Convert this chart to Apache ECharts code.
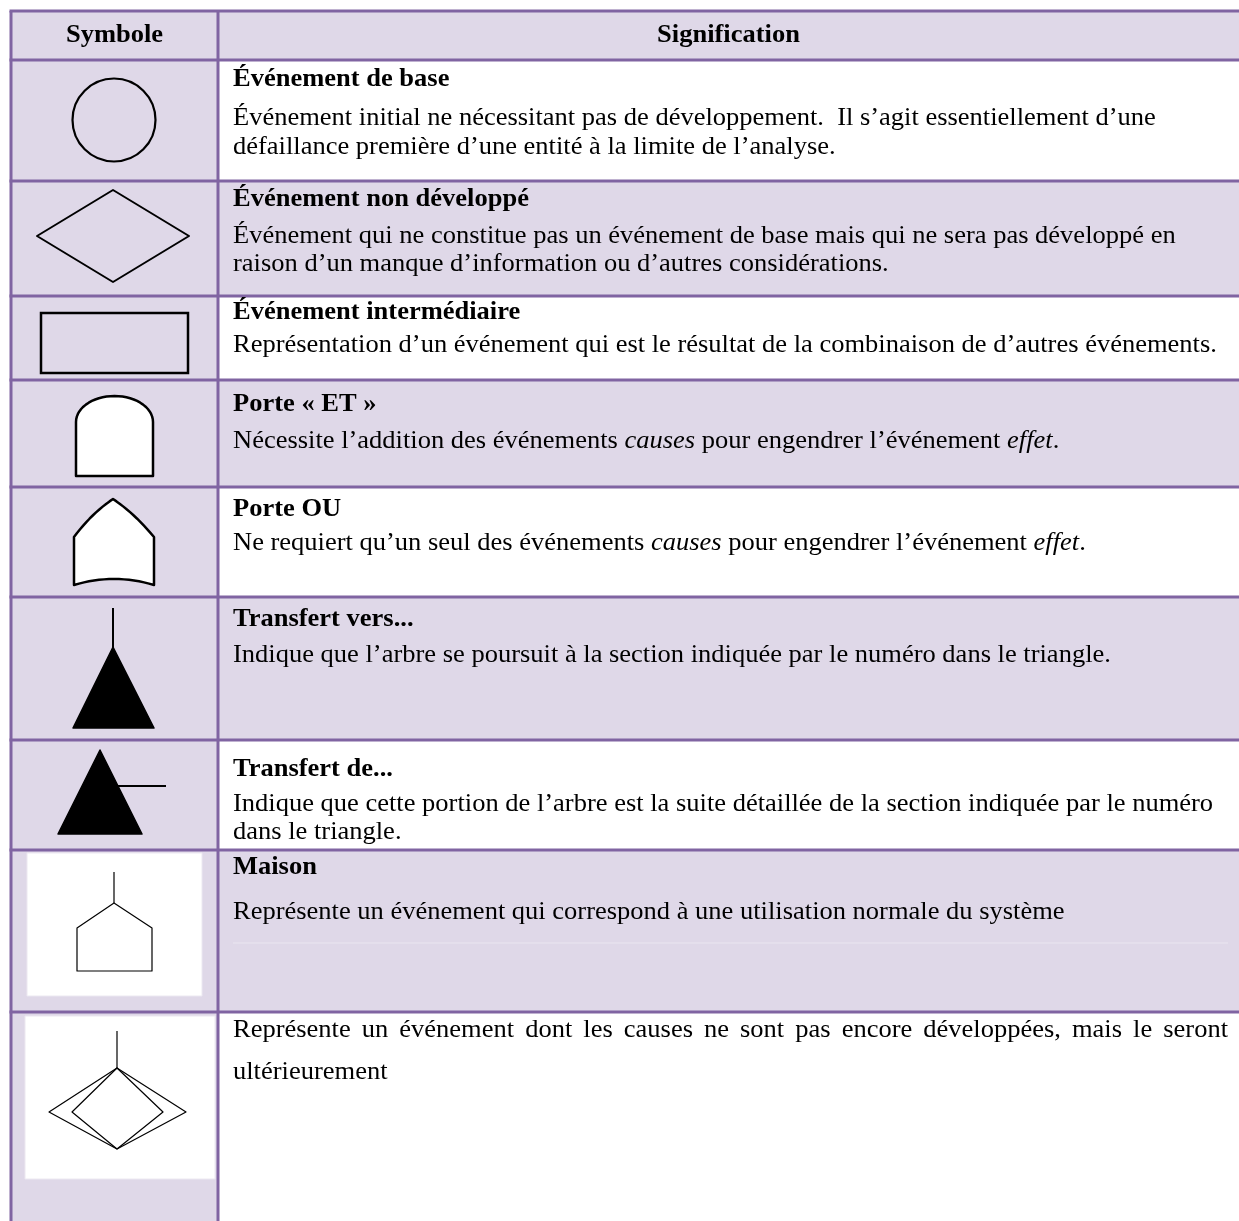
<!DOCTYPE html>
<html><head><meta charset="utf-8">
<script src="https://cdn.jsdelivr.net/npm/echarts@6/dist/echarts.min.js"></script>
<style>html,body{margin:0;padding:0;background:#fff}#c{width:1239px;height:1221px}</style>
</head><body><div id="c"></div>
<script>
// ---------- DATA ----------
const headers = ['Symbole', 'Signification'];
const symbols = ['circle', 'diamond', 'rect', 'andGate', 'orGate', 'transferTo', 'transferFrom', 'house', 'undeveloped'];
const titles = ['Événement de base', 'Événement non développé', 'Événement intermédiaire', 'Porte « ET »', 'Porte OU', 'Transfert vers...', 'Transfert de...', 'Maison', ''];
const descriptions = [
  ['Événement initial ne nécessitant pas de développement.  Il s’agit essentiellement d’une', 'défaillance première d’une entité à la limite de l’analyse.'],
  ['Événement qui ne constitue pas un événement de base mais qui ne sera pas développé en', 'raison d’un manque d’information ou d’autres considérations.'],
  ['Représentation d’un événement qui est le résultat de la combinaison de d’autres événements.'],
  ['Nécessite l’addition des événements {i|causes} pour engendrer l’événement {i|effet}.'],
  ['Ne requiert qu’un seul des événements {i|causes} pour engendrer l’événement {i|effet}.'],
  ['Indique que l’arbre se poursuit à la section indiquée par le numéro dans le triangle.'],
  ['Indique que cette portion de l’arbre est la suite détaillée de la section indiquée par le numéro', 'dans le triangle.'],
  ['Représente un événement qui correspond à une utilisation normale du système'],
  ['Représente un événement dont les causes ne sont pas encore développées, mais le seront', 'ultérieurement']
];
const textShaded = [false, true, false, true, false, true, false, true, false];
const justifiedRows = [8];

// ---------- LAYOUT ----------
const W = 1239, H = 1221;
const X0 = 11, XC = 218, XR = 1245;
const rowLines = [11, 60, 181, 296, 380, 487, 597, 740, 850, 1012];
const textX = 233, textRight = 1228;
const textY = [[80, 118, 147], [200, 236, 264], [313, 345], [405, 441], [510, 543], [620, 655], [770, 804, 832], [868, 912], [null, 1030, 1072]];
const FONT = '"Liberation Serif", "Times New Roman", serif';
const FS = 25, SX = 1.06;
const PURPLE = '#8064A2', LIGHT = '#DFD8E8';

const chart = echarts.init(document.getElementById('c'), null, { renderer: 'canvas' });
const els = [];

function rect(x, y, w, h, fill, z, stroke) {
  els.push({ type: 'rect', z: z || 0, shape: { x, y, width: w, height: h }, style: { fill, stroke: stroke || null, lineWidth: stroke ? 1 : 0 } });
}
function line(x1, y1, x2, y2, stroke, lw, z) {
  els.push({ type: 'line', z: z || 2, shape: { x1, y1, x2, y2 }, style: { stroke, lineWidth: lw } });
}
function poly(points, fill, stroke, lw, z) {
  els.push({ type: 'polygon', z: z || 3, shape: { points }, style: { fill: fill || 'none', stroke: stroke || null, lineWidth: lw || 0, lineJoin: 'round' } });
}
function text(str, x, y, opts) {
  els.push({ type: 'text', z: 4, x, y, scaleX: SX, style: Object.assign({
    text: str, font: `${FS}px ${FONT}`, fill: '#000', verticalAlign: 'middle', align: 'left',
    rich: { i: { fontStyle: 'italic', fontSize: FS, fontFamily: FONT, fill: '#000' } }
  }, opts || {}) });
}
function quad(p0, c, p1, n) {
  const pts = [];
  for (let k = 0; k <= n; k++) {
    const t = k / n, u = 1 - t;
    pts.push([u * u * p0[0] + 2 * u * t * c[0] + t * t * p1[0], u * u * p0[1] + 2 * u * t * c[1] + t * t * p1[1]]);
  }
  return pts;
}

// Backgrounds
const lastBottom = H;
rect(X0, rowLines[0], XR - X0, rowLines[1] - rowLines[0], LIGHT);
for (let i = 0; i < symbols.length; i++) {
  const top = rowLines[i + 1], bot = i + 2 < rowLines.length ? rowLines[i + 2] : lastBottom;
  rect(X0, top, XC - X0, bot - top, LIGHT);
  rect(XC, top, XR - XC, bot - top, textShaded[i] ? LIGHT : '#fff');
}

// Borders
rowLines.forEach(y => line(X0 - 1.5, y, XR, y, PURPLE, 3));
line(X0, rowLines[0], X0, H, PURPLE, 3);
line(XC, rowLines[0], XC, H, PURPLE, 3);

// Header
const hy = (rowLines[0] + rowLines[1]) / 2;
text(headers[0], (X0 + XC) / 2, hy, { align: 'center', font: `bold ${FS}px ${FONT}` });
text(headers[1], (XC + W) / 2, hy, { align: 'center', font: `bold ${FS}px ${FONT}` });

// Symbols
const draw = {
  circle(t) { els.push({ type: 'circle', z: 3, shape: { cx: 114, cy: t + 60, r: 41.5 }, style: { fill: 'none', stroke: '#000', lineWidth: 2.2 } }); },
  diamond(t) { poly([[37, t + 55], [113, t + 9], [189, t + 55], [113, t + 101]], null, '#000', 2); },
  rect(t) { els.push({ type: 'rect', z: 3, shape: { x: 41, y: t + 17, width: 147, height: 60 }, style: { fill: 'none', stroke: '#000', lineWidth: 2.5 } }); },
  andGate(t) {
    const pts = [[76, t + 96], [76, t + 42]];
    const cx = 114.5, cy = t + 42, rx = 38.5, ry = 26;
    for (let k = 0; k <= 30; k++) { const a = Math.PI - Math.PI * k / 30; pts.push([cx + rx * Math.cos(a), cy - ry * Math.sin(a)]); }
    pts.push([153, t + 96]);
    poly(pts, '#fff', '#000', 2.5);
  },
  orGate(t) {
    let pts = [[74, t + 98], [74, t + 50]];
    pts = pts.concat(quad([74, t + 50], [92, t + 26], [113, t + 12], 12).slice(1));
    pts = pts.concat(quad([113, t + 12], [134, t + 26], [154, t + 50], 12).slice(1));
    pts.push([154, t + 98]);
    pts = pts.concat(quad([154, t + 98], [114, t + 86], [74, t + 98], 16).slice(1));
    poly(pts, '#fff', '#000', 2.5);
  },
  transferTo(t) {
    line(113, t + 11, 113, t + 52, '#000', 2, 3);
    poly([[113, t + 50], [154, t + 131], [73, t + 131]], '#000', '#000', 1.5);
  },
  transferFrom(t) {
    poly([[100, t + 10], [142, t + 94], [58, t + 94]], '#000', '#000', 1.5);
    line(112, t + 46, 166, t + 46, '#000', 2, 3);
  },
  house(t) {
    rect(27, t + 3, 175, 143, '#fff', 1, '#ECE8F1');
    line(114, t + 22, 114, t + 53, '#000', 1.2, 3);
    poly([[114, t + 53], [152, t + 78], [152, t + 121], [77, t + 121], [77, t + 78]], null, '#000', 1.2);
  },
  undeveloped(t) {
    rect(25, t + 4, 190, 163, '#fff', 1, '#ECE8F1');
    line(117, t + 19, 117, t + 56, '#000', 1.2, 3);
    poly([[117, t + 56], [186, t + 100], [117, t + 137], [49, t + 100]], null, '#000', 1.2);
    poly([[117, t + 56], [163, t + 100], [117, t + 137], [72, t + 100]], null, '#000', 1.2);
  }
};

const measureCtx = document.createElement('canvas').getContext('2d');
measureCtx.font = `${FS}px ${FONT}`;

symbols.forEach((s, i) => {
  const top = rowLines[i + 1];
  draw[s](top);
  const ys = textY[i];
  if (titles[i]) text(titles[i], textX, ys[0], { font: `bold ${FS}px ${FONT}` });
  descriptions[i].forEach((d, j) => {
    const y = ys[j + 1];
    if (justifiedRows.includes(i) && j < descriptions[i].length - 1) {
      const words = d.split(' ');
      const widths = words.map(w => measureCtx.measureText(w).width * SX);
      const total = widths.reduce((a, b) => a + b, 0);
      const gap = (textRight - textX - total) / (words.length - 1);
      let x = textX;
      words.forEach((w, k) => { text(w, x, y); x += widths[k] + gap; });
    } else {
      text(d, textX, y);
    }
  });
  if (s === 'house') line(textX, top + 93, textRight, top + 93, '#EAE6F0', 1, 3);
});

chart.setOption({ animation: false, graphic: { elements: els } });
</script>
</body></html>
